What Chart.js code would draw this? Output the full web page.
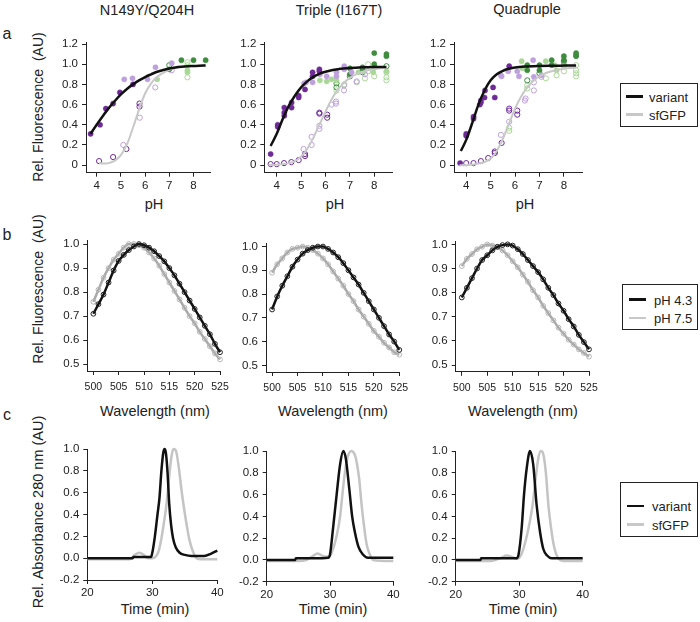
<!DOCTYPE html>
<html><head><meta charset="utf-8">
<script src="https://cdn.jsdelivr.net/npm/chart.js@4.4.1/dist/chart.umd.min.js"></script>
<style>
html,body{margin:0;padding:0;background:#fff;}
#wrap{position:relative;width:700px;height:622px;overflow:hidden;font-family:"Liberation Sans",Arial,sans-serif;color:#222;}
#wrap canvas{position:absolute;left:0;top:0;}
.t{position:absolute;white-space:nowrap;transform:translate(-50%,-50%);line-height:1;}
.yl{position:absolute;white-space:pre;transform:translate(-50%,-50%) rotate(-90deg);line-height:1;font-size:14px;}
.leg{position:absolute;border:1.4px solid #222;box-sizing:border-box;background:#fff;}
.leg .ln{position:absolute;height:2.5px;}
.leg .lt{position:absolute;font-size:13px;line-height:1;transform:translateY(-50%);white-space:nowrap;}
</style>
</head><body>
<div id="wrap">
  <div class="t" style="left:147px;top:10px;font-size:14.5px">N149Y/Q204H</div>
  <div class="t" style="left:339px;top:10px;font-size:14.5px">Triple (I167T)</div>
  <div class="t" style="left:527px;top:9px;font-size:14.5px">Quadruple</div>
  <div class="t" style="left:7px;top:34px;font-size:16px">a</div>
  <div class="t" style="left:7px;top:235px;font-size:16px">b</div>
  <div class="t" style="left:7px;top:415px;font-size:16px">c</div>
  <div class="yl" style="left:38px;top:107px">Rel. Fluorescence  (AU)</div>
  <div class="yl" style="left:38px;top:289px">Rel. Fluorescence  (AU)</div>
  <div class="yl" style="left:38px;top:512px;font-size:14.5px">Rel. Absorbance 280 nm (AU)</div>
  <div class="t" style="left:154px;top:204px;font-size:14.5px">pH</div>
  <div class="t" style="left:335px;top:204px;font-size:14.5px">pH</div>
  <div class="t" style="left:525px;top:204px;font-size:14.5px">pH</div>
  <div class="t" style="left:155px;top:411px;font-size:14.5px">Wavelength (nm)</div>
  <div class="t" style="left:333px;top:411px;font-size:14.5px">Wavelength (nm)</div>
  <div class="t" style="left:523px;top:411px;font-size:14.5px">Wavelength (nm)</div>
  <div class="t" style="left:155px;top:609px;font-size:14.5px">Time (min)</div>
  <div class="t" style="left:333px;top:609px;font-size:14.5px">Time (min)</div>
  <div class="t" style="left:523px;top:609px;font-size:14.5px">Time (min)</div>

  <div class="leg" style="left:620px;top:83px;width:78px;height:44px">
    <div class="ln" style="left:5px;top:11px;width:17px;background:#111"></div>
    <div class="lt" style="left:28px;top:12.5px">variant</div>
    <div class="ln" style="left:5px;top:29px;width:17px;background:#c8c8c8"></div>
    <div class="lt" style="left:28px;top:30.5px">sfGFP</div>
  </div>
  <div class="leg" style="left:622px;top:284px;width:76px;height:46px">
    <div class="ln" style="left:6px;top:13px;width:17px;background:#111"></div>
    <div class="lt" style="left:31px;top:14.5px">pH 4.3</div>
    <div class="ln" style="left:6px;top:31.5px;width:17px;background:#c8c8c8"></div>
    <div class="lt" style="left:31px;top:33px">pH 7.5</div>
  </div>
  <div class="leg" style="left:620px;top:482px;width:78px;height:55px">
    <div class="ln" style="left:6px;top:21.5px;width:17px;background:#111"></div>
    <div class="lt" style="left:31px;top:23px">variant</div>
    <div class="ln" style="left:6px;top:40px;width:17px;background:#c8c8c8"></div>
    <div class="lt" style="left:31px;top:41.5px">sfGFP</div>
  </div>
</div>
<script>
// ---------- tick values & labels ----------
const phTicks = [4, 5, 6, 7, 8];
const phTickLabels = ['4', '5', '6', '7', '8'];
const fluoTicks = [0, 0.2, 0.4, 0.6, 0.8, 1.0, 1.2];
const fluoTickLabels = ['0', '0.2', '0.4', '0.6', '0.8', '1.0', '1.2'];
const wlTicks = [500, 505, 510, 515, 520, 525];
const wlTickLabels = ['500', '505', '510', '515', '520', '525'];
const specTicks = [0.5, 0.6, 0.7, 0.8, 0.9, 1.0];
const specTickLabels = ['0.5', '0.6', '0.7', '0.8', '0.9', '1.0'];
const timeTicks = [20, 30, 40];
const timeTickLabels = ['20', '30', '40'];
const absTicks = [-0.2, 0, 0.2, 0.4, 0.6, 0.8, 1.0];
const absTickLabels = ['-0.2', '0.0', '0.2', '0.4', '0.6', '0.8', '1.0'];

// ---------- row a: pH titration fits ----------
const phGrid = [3.75,4.0,4.25,4.5,4.75,5.0,5.25,5.5,5.75,6.0,6.25,6.5,6.75,7.0,7.25,7.5,7.75,8.0,8.25,8.5];
const a1VariantFit = [0.31,0.40,0.485,0.565,0.635,0.70,0.755,0.80,0.84,0.873,0.90,0.925,0.943,0.957,0.967,0.974,0.979,0.982,0.985,0.987];
const a1SfgfpPh = [4.1,4.25,4.5,4.75,5.0,5.25,5.5,5.75,6.0,6.25,6.5,6.75,7.0,7.25,7.5,7.75,8.0,8.25,8.5];
const a1SfgfpFit = [0.02,0.015,0.02,0.045,0.10,0.205,0.37,0.55,0.71,0.81,0.875,0.915,0.945,0.962,0.972,0.978,0.982,0.984,0.986];
const a2VariantFit = [0.19,0.31,0.46,0.59,0.69,0.77,0.83,0.875,0.905,0.925,0.94,0.95,0.957,0.962,0.966,0.969,0.971,0.972,0.973,0.973];
const a2SfgfpPh = [3.66,4.0,4.25,4.5,4.75,5.0,5.25,5.5,5.75,6.0,6.25,6.5,6.75,7.0,7.25,7.5,7.75,8.0,8.25,8.5];
const a2SfgfpFit = [0.0,0.005,0.01,0.02,0.04,0.085,0.16,0.27,0.40,0.53,0.65,0.745,0.815,0.865,0.90,0.925,0.94,0.952,0.96,0.965];
const a3VariantPh = [3.78,4.0,4.25,4.5,4.75,5.0,5.25,5.5,5.75,6.0,6.5,7.0,7.5,8.0,8.5];
const a3VariantFit = [0.14,0.25,0.42,0.60,0.74,0.84,0.90,0.935,0.955,0.968,0.978,0.983,0.985,0.986,0.987];
const a3SfgfpPh = [3.72,4.0,4.25,4.5,4.75,5.0,5.25,5.5,5.75,6.0,6.25,6.5,6.75,7.0,7.25,7.5,7.75,8.0,8.25,8.5];
const a3SfgfpFit = [0.0,0.0,0.005,0.015,0.03,0.065,0.14,0.26,0.41,0.56,0.68,0.77,0.835,0.88,0.91,0.93,0.945,0.955,0.962,0.967];

// ---------- row a: measured points [pH, value] ----------
// filled = variant, open = sfGFP; dark/light purple = acidic buffers, dark/light green = basic buffers
const a1PurpleDarkFilled = [[3.75,0.31],[4.14,0.40],[4.38,0.56],[4.68,0.61],[4.96,0.72],[5.5,0.80]];
const a1PurpleLightFilled = [[5.14,0.85],[5.48,0.86],[6.1,0.85],[6.43,0.97],[7.1,1.01]];
const a1GreenDarkFilled = [[7.0,0.95],[7.5,1.04],[8.0,1.04],[8.5,1.04]];
const a1GreenLightFilled = [[6.5,0.85],[7.75,0.94],[7.75,0.92]];
const a1PurpleDarkOpen = [[4.1,0.04],[4.68,0.08],[5.23,0.16],[5.77,0.61],[5.77,0.58]];
const a1PurpleLightOpen = [[5.1,0.2],[5.78,0.47],[6.42,0.77],[7.1,0.94]];
const a1GreenDarkOpen = [[7.0,0.99]];
const a1GreenLightOpen = [[7.75,1.02],[7.75,0.99],[7.75,0.87]];

const a2PurpleDarkFilled = [[3.75,0.11],[4.04,0.38],[4.04,0.40],[4.31,0.57],[4.31,0.52],[4.31,0.49],[4.61,0.62],[4.61,0.57],[4.9,0.67],[4.9,0.69],[5.16,0.75],[5.47,0.92],[5.47,0.88],[5.75,0.93],[5.75,0.95]];
const a2PurpleLightFilled = [[5.12,0.81],[5.2,0.82],[5.47,0.82],[5.77,0.90],[6.05,0.88],[6.45,0.92],[6.45,0.88],[6.77,0.98],[6.77,0.95],[7.07,0.92]];
const a2GreenDarkFilled = [[7.0,0.96],[7.0,0.90],[7.52,0.97],[7.52,0.95],[8.0,1.11],[8.0,1.0],[8.0,0.97],[8.5,1.1],[8.5,1.08]];
const a2GreenLightFilled = [[5.77,0.84],[6.05,0.83],[6.25,0.85],[6.45,0.84],[7.35,0.92],[7.55,0.93],[7.96,0.92],[8.5,0.93]];
const a2PurpleDarkOpen = [[3.75,0.01],[4.0,0.01],[4.3,0.02],[4.6,0.03],[4.9,0.05],[5.16,0.09],[5.16,0.11],[5.75,0.52],[5.75,0.51],[6.07,0.5],[6.07,0.47]];
const a2PurpleLightOpen = [[5.1,0.16],[5.43,0.2],[5.43,0.28],[5.75,0.39],[5.75,0.36],[6.25,0.6],[6.43,0.63],[6.43,0.61],[6.76,0.74],[6.76,0.79],[7.28,0.83],[7.62,0.9]];
const a2GreenDarkOpen = [[6.45,0.81],[6.45,0.77],[7.0,0.88],[7.52,0.92],[8.5,0.98]];
const a2GreenLightOpen = [[6.45,0.74],[6.77,0.8],[7.28,0.82],[7.62,0.86],[7.75,0.93],[7.75,1.0],[8.0,0.88],[8.5,0.92],[8.5,0.87],[8.5,0.84]];

const a3PurpleDarkFilled = [[3.75,0.02],[4.0,0.29],[4.0,0.31],[4.3,0.46],[4.3,0.48],[4.56,0.60],[4.6,0.62],[4.6,0.64],[4.75,0.67],[4.77,0.74],[5.1,0.77],[5.17,0.67],[5.76,0.98]];
const a3PurpleLightFilled = [[5.42,0.89],[5.45,0.88],[5.72,0.93],[6.09,0.93],[6.16,0.88],[6.74,1.04],[6.77,0.875],[7.08,0.89]];
const a3GreenDarkFilled = [[6.5,0.99],[6.5,0.94],[7.0,0.99],[7.0,0.94],[7.5,1.04],[7.5,0.99],[8.0,1.08],[8.0,1.04],[8.5,1.11],[8.5,1.09],[8.5,1.08]];
const a3GreenLightFilled = [[6.27,1.03],[6.3,0.96],[7.26,1.03],[7.63,0.99],[7.7,0.94],[8.0,0.98]];
const a3PurpleDarkOpen = [[4.0,0.02],[4.3,0.02],[4.6,0.04],[4.9,0.07],[5.17,0.12],[5.17,0.135],[5.45,0.22],[5.76,0.56],[5.76,0.54],[6.09,0.5],[6.09,0.54]];
const a3PurpleLightOpen = [[5.42,0.30],[5.76,0.43],[6.4,0.64],[6.43,0.66],[6.77,0.74],[6.77,0.82],[7.08,0.875]];
const a3GreenDarkOpen = [[6.5,0.84],[7.0,0.91],[8.0,1.03],[8.0,0.99]];
const a3GreenLightOpen = [[5.76,0.37],[5.76,0.34],[6.5,0.79],[6.5,0.76],[7.26,0.86],[7.7,0.89],[8.0,0.93],[8.5,0.99],[8.5,0.94],[8.5,0.91],[8.5,0.88]];

// ---------- row b: emission spectra ----------
const wavelengths = [500,501,502,503,504,505,506,507,508,509,510,511,512,513,514,515,516,517,518,519,520,521,522,523,524,525];
const b1PH43 = [0.71,0.75,0.79,0.84,0.89,0.93,0.955,0.975,0.99,1.0,0.995,0.985,0.97,0.95,0.928,0.90,0.87,0.835,0.80,0.765,0.73,0.695,0.66,0.625,0.585,0.55];
const b1PH75 = [0.76,0.81,0.86,0.90,0.935,0.96,0.985,1.0,1.0,0.995,0.985,0.965,0.94,0.91,0.875,0.84,0.805,0.77,0.735,0.70,0.67,0.635,0.605,0.575,0.545,0.52];
const b2PH43 = [0.735,0.79,0.835,0.875,0.915,0.945,0.97,0.985,0.995,1.0,1.0,0.99,0.975,0.955,0.93,0.90,0.87,0.84,0.805,0.77,0.735,0.70,0.665,0.63,0.60,0.565];
const b2PH75 = [0.89,0.925,0.95,0.975,0.99,0.995,1.0,0.995,0.985,0.97,0.95,0.925,0.895,0.865,0.835,0.80,0.77,0.735,0.705,0.675,0.645,0.62,0.595,0.575,0.555,0.545];
const b3PH43 = [0.78,0.82,0.86,0.90,0.935,0.955,0.975,0.99,0.997,1.0,0.995,0.98,0.96,0.935,0.91,0.885,0.855,0.82,0.79,0.755,0.725,0.69,0.66,0.625,0.595,0.565];
const b3PH75 = [0.91,0.94,0.96,0.98,0.99,1.0,0.995,0.99,0.975,0.955,0.93,0.905,0.875,0.845,0.81,0.78,0.745,0.715,0.685,0.655,0.63,0.605,0.585,0.565,0.55,0.535];

// ---------- row c: size-exclusion chromatograms ----------
const c1VariantTime = [20,27,27.1,29.8,30.0,30.4,30.8,31.1,31.4,31.7,31.9,32.1,32.35,32.6,32.9,33.2,33.6,34.2,35.0,36.0,37.0,38.0,39.0,40.0];
const c1VariantAbs = [0.0,0.0,0.01,0.01,0.05,0.2,0.4,0.55,0.8,0.97,1.0,0.96,0.78,0.5,0.3,0.18,0.1,0.05,0.03,0.02,0.02,0.02,0.04,0.07];
const c1SfgfpTime = [20,26.5,27.3,28.0,28.7,29.3,30.0,30.6,31.0,31.4,31.8,32.2,32.6,33.0,33.3,33.7,34.1,34.5,34.9,35.3,35.7,36.2,36.8,37.5,40];
const c1SfgfpAbs = [-0.01,-0.01,0.03,0.05,0.03,0.0,0.0,0.02,0.07,0.18,0.33,0.5,0.75,0.95,1.0,0.97,0.82,0.62,0.45,0.3,0.17,0.07,0.0,-0.01,-0.01];
const c2VariantTime = [20,24.5,24.6,27.5,29.7,30.0,30.5,31.05,31.6,32.1,32.5,33.05,33.5,33.95,34.5,35.2,36.0,40];
const c2VariantAbs = [0.0,0.0,0.015,0.015,0.02,0.05,0.3,0.6,0.88,1.0,0.93,0.65,0.4,0.25,0.12,0.05,0.02,0.02];
const c2SfgfpTime = [20,25,26.3,27.4,28.0,28.7,29.5,30.0,30.3,31.05,31.6,32.1,32.6,33.0,33.4,33.8,34.1,34.6,35.0,35.4,35.8,36.3,36.8,40];
const c2SfgfpAbs = [-0.01,-0.01,0.0,0.04,0.06,0.04,0.03,0.04,0.07,0.22,0.4,0.68,0.9,0.98,1.0,0.98,0.93,0.75,0.5,0.3,0.14,0.05,0.0,-0.01];
const c3VariantTime = [20,23.9,24.0,29.6,29.9,30.4,30.76,31.2,31.7,32.2,32.75,33.3,33.8,34.4,35.1,40];
const c3VariantAbs = [0.0,0.0,0.015,0.015,0.05,0.3,0.6,0.85,1.0,0.88,0.5,0.25,0.1,0.04,0.015,0.015];
const c3SfgfpTime = [20,25.5,26.3,27.2,28.0,28.8,29.6,30.4,31.2,31.7,32.1,32.6,33.0,33.4,33.8,34.2,34.6,35.0,35.5,36.2,37,40];
const c3SfgfpAbs = [-0.01,-0.01,0.0,0.02,0.04,0.03,0.01,0.06,0.22,0.36,0.5,0.75,0.93,1.0,0.97,0.8,0.5,0.3,0.12,0.01,-0.01,-0.01];

// ---------- drawing ----------
const FONT = '"Liberation Sans", Arial, sans-serif';
const PAGE_W = 700, PAGE_H = 622, YW = 40, XH = 26;
const C = {
  black: '#111111', grayA: '#c8c8c8', grayB: '#a9a9a9', grayBpt: '#b5b5b5', grayC: '#c4c4c4',
  purpleDark: '#6e2a96', purpleLight: '#bea0dc', greenDark: '#3f8c3f', greenLight: '#a9d896'
};
const xy = (xs, ys) => xs.map((x, i) => ({x, y: ys[i]}));
const pairs = arr => arr.map(p => ({x: p[0], y: p[1]}));
const wrap = document.getElementById('wrap');

function curve(data, color, width) {
  return {data, showLine: true, borderColor: color, borderWidth: width, pointRadius: 0,
          cubicInterpolationMode: 'monotone', clip: false, fill: false};
}
function dots(arr, color, filled) {
  return {data: pairs(arr), showLine: false, pointRadius: 2.6, pointHoverRadius: 2.6,
          pointBackgroundColor: filled ? color : 'rgba(0,0,0,0)', pointBorderColor: color,
          pointBorderWidth: filled ? 0.5 : 1, clip: false};
}
function axis(min, max, vals, labels, isX, fontSize, pad) {
  const s = {
    type: 'linear', min, max,
    afterBuildTicks: sc => { sc.ticks = vals.map(v => ({value: v})); },
    grid: {display: true, drawOnChartArea: false, drawTicks: true, tickLength: 4, tickColor: '#222', lineWidth: 1},
    border: {display: true, color: '#222', width: 1},
    ticks: {autoSkip: false, maxRotation: 0, minRotation: 0, padding: pad, color: '#222',
            font: {family: FONT, size: fontSize}, callback: (v, i) => labels[i]}
  };
  s.afterFit = isX ? (sc => { sc.height = XH; }) : (sc => { sc.width = YW; });
  return s;
}
function panel(rect, xScale, yScale, datasets) {
  const cv = document.createElement('canvas');
  cv.width = PAGE_W; cv.height = PAGE_H;
  cv.style.width = PAGE_W + 'px'; cv.style.height = PAGE_H + 'px';
  wrap.appendChild(cv);
  new Chart(cv, {
    type: 'scatter',
    data: {datasets},
    options: {
      responsive: false, animation: false, events: [], devicePixelRatio: 1,
      layout: {padding: {left: rect.l - YW, top: rect.t, right: PAGE_W - rect.r, bottom: PAGE_H - rect.b - XH}},
      plugins: {legend: {display: false}, tooltip: {enabled: false}},
      scales: {x: xScale, y: yScale}
    }
  });
}
function rowA(rect, xr, vx, vy, sx, sy, pts) {
  panel(rect,
    axis(xr[0], xr[1], phTicks, phTickLabels, true, 11.5, 2),
    axis(-0.075, 1.22, fluoTicks, fluoTickLabels, false, 11.5, 4),
    [curve(xy(vx, vy), C.black, 2.5), curve(xy(sx, sy), C.grayA, 2),
     dots(pts[0], C.purpleDark, true), dots(pts[1], C.purpleLight, true),
     dots(pts[2], C.greenDark, true), dots(pts[3], C.greenLight, true),
     dots(pts[4], C.purpleDark, false), dots(pts[5], C.purpleLight, false),
     dots(pts[6], C.greenDark, false), dots(pts[7], C.greenLight, false)]);
}
function spectrum(data, lineColor, ptColor) {
  return {data, showLine: true, borderColor: lineColor, borderWidth: 2.5, pointRadius: 2.4,
          pointBackgroundColor: 'rgba(0,0,0,0)', pointBorderColor: ptColor, pointBorderWidth: 1,
          cubicInterpolationMode: 'monotone', clip: false};
}
function rowB(rect, y43, y75) {
  panel(rect,
    axis(498.8, 525, wlTicks, wlTickLabels, true, 10.5, 6),
    axis(0.472, 1.014, specTicks, specTickLabels, false, 11.5, 4),
    [spectrum(xy(wavelengths, y43), C.black, '#222'), spectrum(xy(wavelengths, y75), C.grayB, C.grayBpt)]);
}
function rowC(rect, vt, va, st, sa) {
  panel(rect,
    axis(20, 40, timeTicks, timeTickLabels, true, 11.5, 2),
    axis(-0.2, 1.0, absTicks, absTickLabels, false, 11.5, 4),
    [curve(xy(vt, va), C.black, 2.5), curve(xy(st, sa), C.grayC, 2.5)]);
}

rowA({l: 86, r: 210.7, t: 42, b: 172.7}, [3.56, 8.71], phGrid, a1VariantFit, a1SfgfpPh, a1SfgfpFit,
  [a1PurpleDarkFilled, a1PurpleLightFilled, a1GreenDarkFilled, a1GreenLightFilled, a1PurpleDarkOpen, a1PurpleLightOpen, a1GreenDarkOpen, a1GreenLightOpen]);
rowA({l: 264.3, r: 392.3, t: 42, b: 172.7}, [3.49, 8.74], phGrid, a2VariantFit, a2SfgfpPh, a2SfgfpFit,
  [a2PurpleDarkFilled, a2PurpleLightFilled, a2GreenDarkFilled, a2GreenLightFilled, a2PurpleDarkOpen, a2PurpleLightOpen, a2GreenDarkOpen, a2GreenLightOpen]);
rowA({l: 454, r: 582.7, t: 42, b: 172.7}, [3.5, 8.77], a3VariantPh, a3VariantFit, a3SfgfpPh, a3SfgfpFit,
  [a3PurpleDarkFilled, a3PurpleLightFilled, a3GreenDarkFilled, a3GreenLightFilled, a3PurpleDarkOpen, a3PurpleLightOpen, a3GreenDarkOpen, a3GreenLightOpen]);

rowB({l: 87.3, r: 220, t: 240.7, b: 371}, b1PH43, b1PH75);
rowB({l: 266, r: 399.3, t: 243.2, b: 372}, b2PH43, b2PH75);
rowB({l: 455.7, r: 589, t: 241, b: 371.8}, b3PH43, b3PH75);

rowC({l: 87.3, r: 217.3, t: 449, b: 580}, c1VariantTime, c1VariantAbs, c1SfgfpTime, c1SfgfpAbs);
rowC({l: 266.7, r: 393.3, t: 451, b: 581.7}, c2VariantTime, c2VariantAbs, c2SfgfpTime, c2SfgfpAbs);
rowC({l: 455.7, r: 582.7, t: 451, b: 581.7}, c3VariantTime, c3VariantAbs, c3SfgfpTime, c3SfgfpAbs);
</script>
</body></html>
